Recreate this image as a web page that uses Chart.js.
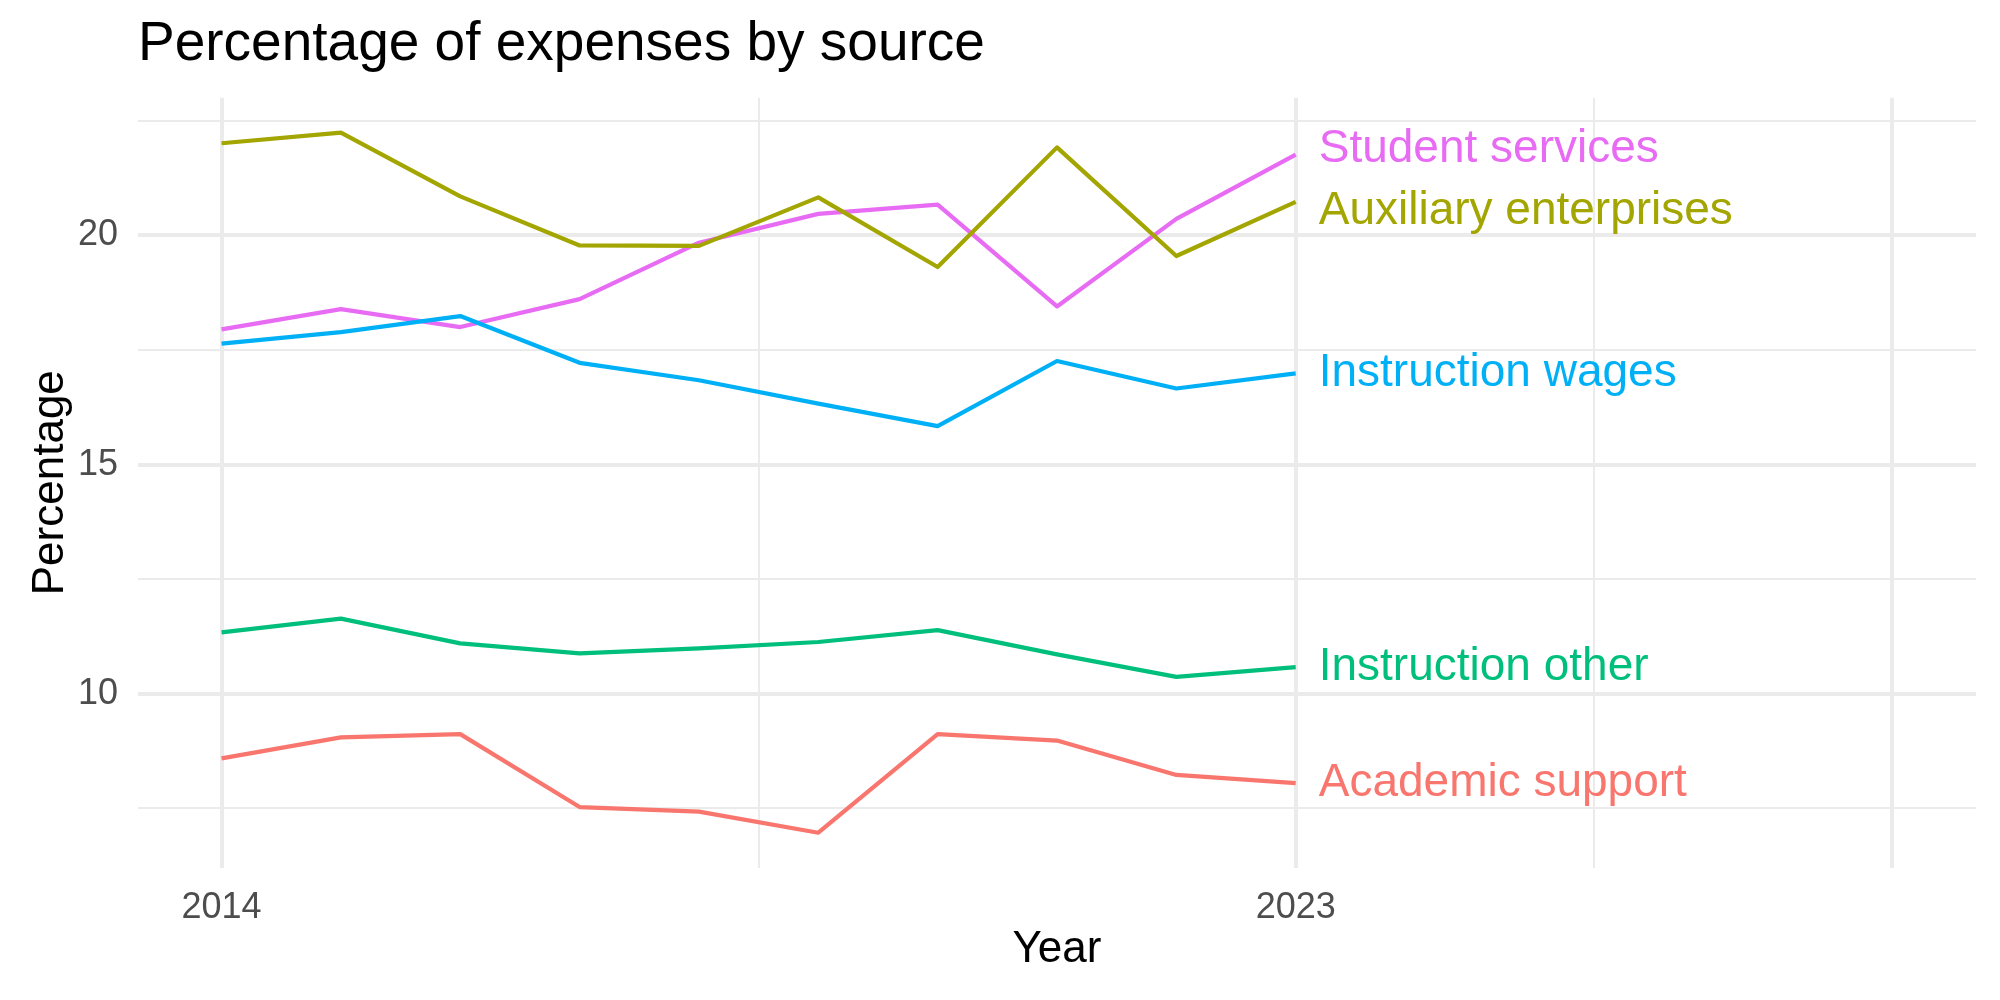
<!DOCTYPE html>
<html>
<head>
<meta charset="utf-8">
<script src="https://cdn.jsdelivr.net/npm/chart.js@4/dist/chart.umd.min.js"></script>
<style>
  body { margin: 0; background: #fff; }
  canvas { display: block; }
</style>
</head>
<body>
<canvas id="chart" width="2000" height="1000"></canvas>
<script>
// data
let years = [2014, 2015, 2016, 2017, 2018, 2019, 2020, 2021, 2022, 2023];
let sources = ["Academic support", "Auxiliary enterprises", "Instruction other", "Instruction wages", "Student services"];
let academicSupport = [8.59, 9.05, 9.12, 7.53, 7.43, 6.97, 9.12, 8.98, 8.23, 8.05];
let auxiliaryEnterprises = [22.01, 22.24, 20.85, 19.78, 19.77, 20.83, 19.31, 21.92, 19.55, 20.73];
let instructionOther = [11.34, 11.64, 11.10, 10.88, 10.99, 11.13, 11.39, 10.86, 10.37, 10.58];
let instructionWages = [17.64, 17.89, 18.24, 17.22, 16.84, 16.33, 15.84, 17.26, 16.66, 16.99];
let studentServices = [17.95, 18.39, 18.00, 18.61, 19.84, 20.47, 20.67, 18.45, 20.36, 21.76];

// axis ticks
let xGrid = [2014, 2018.5, 2023, 2025.5, 2028];
let xMajor = [2014, 2023, 2028];
let xLabels = { 2014: "2014", 2023: "2023" };
let yGrid = [7.5, 10, 12.5, 15, 17.5, 20, 22.5];
let yLabels = { 10: "10", 15: "15", 20: "20" };

let colors = ["#F8766D", "#A3A500", "#00BF7D", "#00B0F6", "#E76BF3"];
let series = [academicSupport, auxiliaryEnterprises, instructionOther, instructionWages, studentServices];

// ggplot style 5% expansion
let xRange = [2014, 2028];
let allY = [].concat.apply([], series);
let yRange = [Math.min.apply(null, allY), Math.max.apply(null, allY)];
let xPad = (xRange[1] - xRange[0]) * 0.05;
let yPad = (yRange[1] - yRange[0]) * 0.05;

let datasets = sources.map(function (name, i) {
  return {
    label: name,
    data: years.map(function (y, j) { return { x: y, y: series[i][j] }; }),
    borderColor: colors[i],
    backgroundColor: colors[i],
    borderWidth: 4.2,
    pointRadius: 0,
    tension: 0,
    borderJoinStyle: "round",
  };
});

// direct labels at the end of each line
let labelNudge = [0, 9, 0, 0, -5];
let endLabels = {
  id: "endLabels",
  afterDatasetsDraw: function (chart) {
    let ctx = chart.ctx;
    let xs = chart.scales.x;
    let ys = chart.scales.y;
    ctx.save();
    ctx.font = "46px 'Liberation Sans', Arial, sans-serif";
    ctx.textAlign = "left";
    ctx.textBaseline = "middle";
    chart.data.datasets.forEach(function (ds, i) {
      let last = ds.data[ds.data.length - 1];
      ctx.fillStyle = ds.borderColor;
      ctx.fillText(ds.label, xs.getPixelForValue(last.x) + 23, ys.getPixelForValue(last.y) + labelNudge[i]);
    });
    ctx.restore();
  },
};

Chart.defaults.font.family = "'Liberation Sans', Arial, sans-serif";

new Chart(document.getElementById("chart"), {
  type: "line",
  data: { datasets: datasets },
  plugins: [endLabels],
  options: {
    responsive: false,
    animation: false,
    devicePixelRatio: 1,
    layout: { padding: { left: 0, right: 24, top: 0, bottom: 0 } },
    plugins: {
      legend: { display: false },
      tooltip: { enabled: false },
      title: {
        display: true,
        text: "Percentage of expenses by source",
        align: "start",
        fullSize: false,
        color: "#000",
        font: { size: 55, weight: "normal" },
        padding: { top: 12, bottom: 19.7 },
      },
    },
    scales: {
      x: {
        type: "linear",
        min: xRange[0] - xPad,
        max: xRange[1] + xPad,
        afterBuildTicks: function (scale) {
          scale.ticks = xGrid.map(function (v) { return { value: v }; });
        },
        afterFit: function (scale) { scale.height = 132.3; },
        grid: {
          color: "#EBEBEB",
          lineWidth: function (c) { return xMajor.indexOf(c.tick.value) >= 0 ? 4 : 2; },
          drawTicks: false,
        },
        border: { display: false },
        ticks: {
          autoSkip: false,
          maxRotation: 0,
          padding: 19,
          color: "#4D4D4D",
          font: { size: 36 },
          callback: function (v) { return xLabels[v] || ""; },
        },
        title: {
          display: true,
          text: "Year",
          color: "#000",
          font: { size: 44 },
          padding: { top: 0, bottom: 24 },
        },
      },
      y: {
        type: "linear",
        min: yRange[0] - yPad,
        max: yRange[1] + yPad,
        afterBuildTicks: function (scale) {
          scale.ticks = yGrid.map(function (v) { return { value: v }; });
        },
        afterFit: function (scale) { scale.width = 138; },
        grid: {
          color: "#EBEBEB",
          lineWidth: function (c) { return yLabels[c.tick.value] ? 4 : 2; },
          drawTicks: false,
        },
        border: { display: false },
        ticks: {
          autoSkip: false,
          padding: 20,
          color: "#4D4D4D",
          font: { size: 36 },
          callback: function (v) { return yLabels[v] || ""; },
        },
        title: {
          display: true,
          text: "Percentage",
          color: "#000",
          font: { size: 44 },
          padding: { top: 24, bottom: 0 },
        },
      },
    },
  },
});
</script>
</body>
</html>
